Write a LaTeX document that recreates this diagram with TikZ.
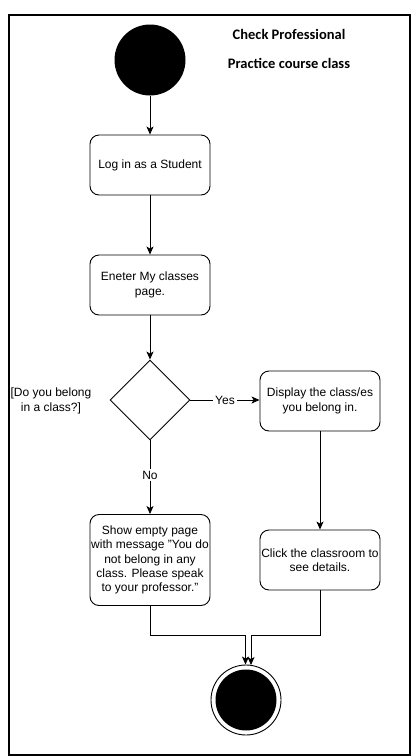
\documentclass[tikz,border=0pt]{standalone}
\usepackage{fontspec}
\setmainfont{Liberation Sans}
\newfontfamily\titlefont{Carlito}
\usetikzlibrary{arrows.meta,shapes.geometric,calc}
\begin{document}
\begin{tikzpicture}[x=1pt,y=-1pt,
  every node/.style={font=\fontsize{12}{14.4}\selectfont},
  act/.style={draw, rounded corners=9pt, minimum width=120pt, minimum height=60pt, align=center, inner sep=1pt, line width=0.9pt},
  arr/.style={-{Stealth[length=8pt,width=7pt,inset=2pt]}, line width=0.9pt},
  lab/.style={fill=white, inner sep=2pt},
  ttl/.style={font=\titlefont\bfseries\fontsize{14.5}{16}\selectfont}]
\useasboundingbox (0,0) rectangle (411,756);
\draw[line width=1.3pt] (9,15) rectangle (410,755);
\node[ttl] (t1) at (289,34) {Check Professional};
\node[ttl] (t2) at (289,63) {Practice course class};
\node[circle, fill=black, minimum size=71pt, inner sep=0pt] (start) at (150,60) {};
\node[act] (login) at (150,165) {Log in as a Student};
\node[act] (enter) at (150,285) {Eneter My classes\\page.};
\node[diamond, draw, minimum width=80pt, minimum height=80pt, inner sep=0pt, line width=0.9pt] (dec) at (150,400) {};
\node[align=center] (q) at (51,401) {[Do you belong\\in a class?]};
\node[act] (disp) at (320,401) {Display the class/es\\you belong in.};
\node[act, minimum height=91pt] (empty) at (150,560) {Show empty page\\with message "You do\\not belong in any\\class. Please speak\\to your professor."};
\node[act] (click) at (320,560) {Click the classroom to\\see details.};
\node[circle, draw, fill=white, minimum size=70pt, inner sep=0pt, line width=0.9pt] (end) at (246,700) {};
\node[circle, fill=black, minimum size=61pt, inner sep=0pt] (endin) at (end.center) {};
\coordinate (jl) at (245.5,635);
\coordinate (jr) at (251,635);
\draw[arr] (start) -- (login);
\draw[arr] (login) -- (enter);
\draw[arr] (enter) -- (dec);
\draw[arr] (dec.east) -- node[lab, pos=0.5]{Yes} (disp.west |- dec.east);
\draw[arr] (dec.south) -- node[lab, pos=0.47]{No} (empty.north);
\draw[arr] (disp) -- (click);
\draw[arr] (empty.south) |- (jl) -- (jl |- end.north);
\draw[arr] (click.south) |- (jr) -- ($(jr |- end.north)+(0,0.5)$);
\end{tikzpicture}
\end{document}
